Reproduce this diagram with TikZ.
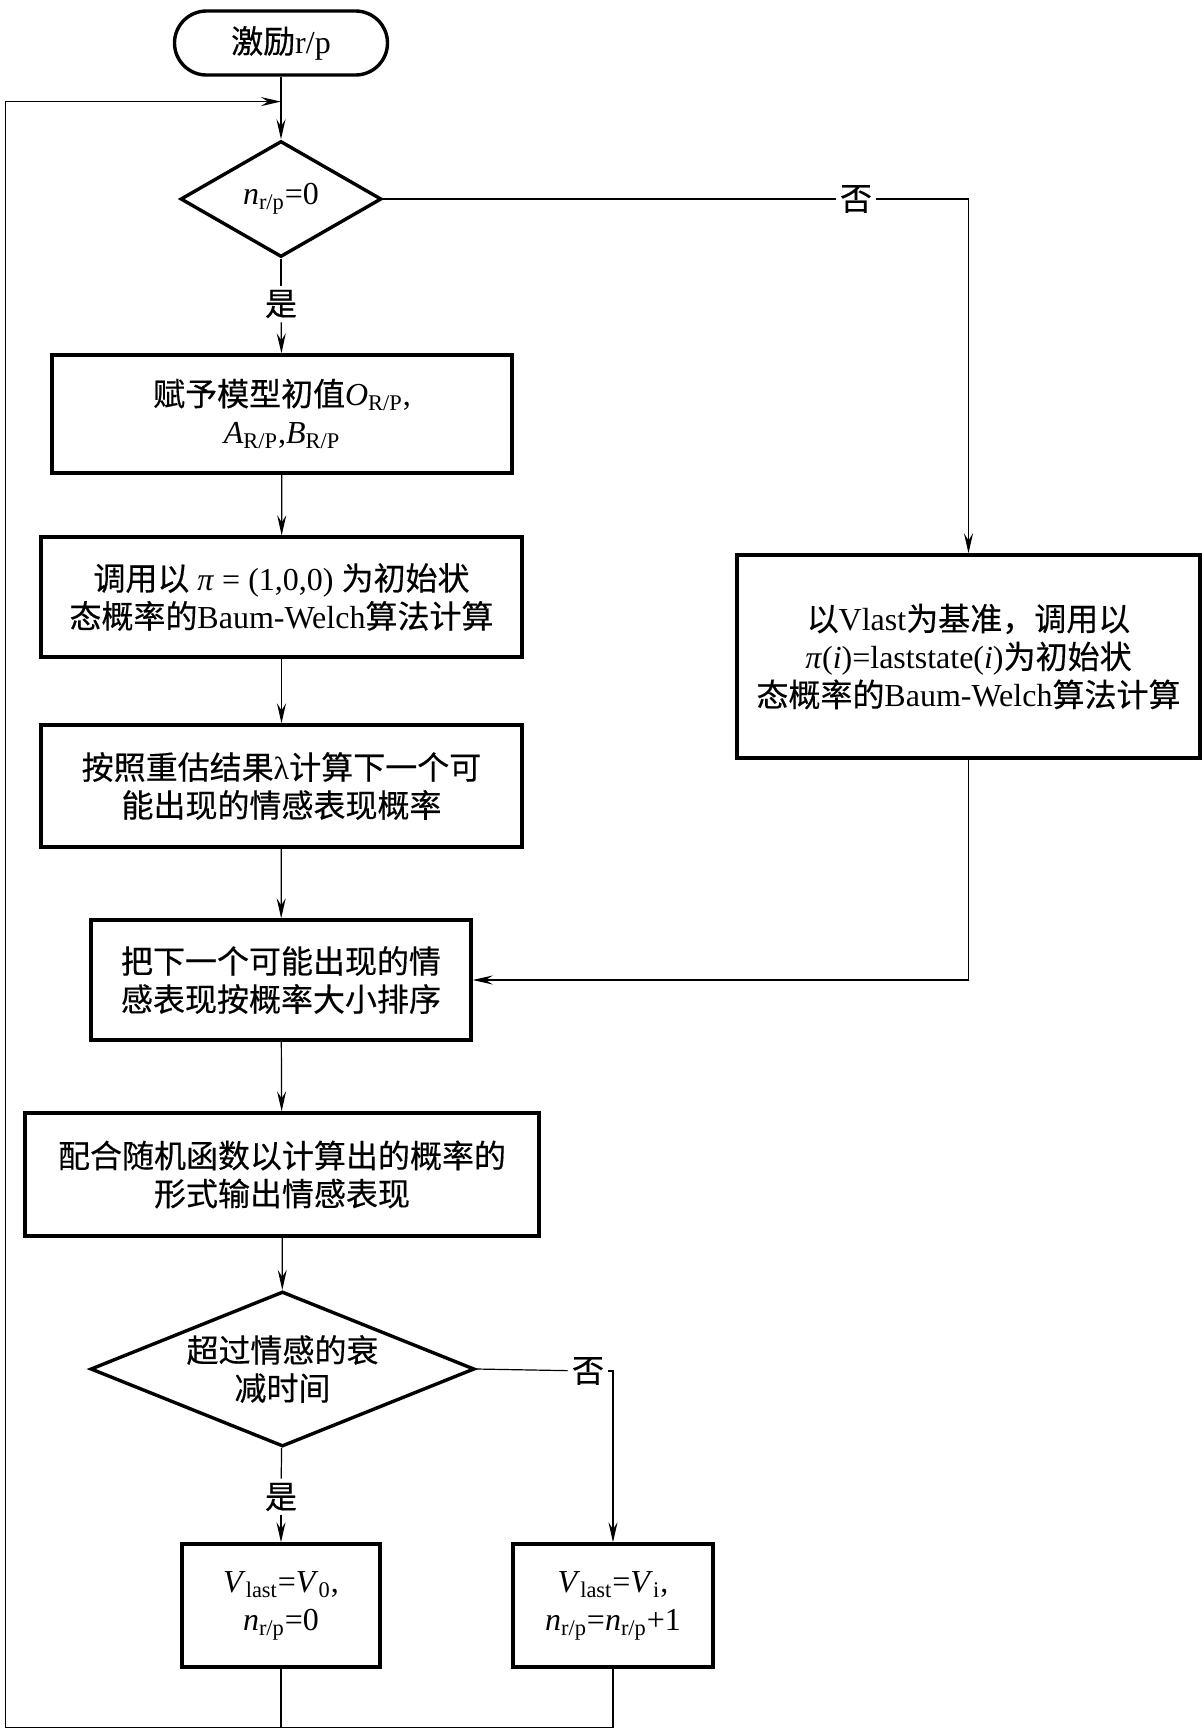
\documentclass[tikz,border=0pt]{standalone}
\usepackage{fontspec}
\setmainfont{Liberation Serif}
\newfontfamily\cjk[FakeBold=0.4]{Noto Sans CJK SC}
\usetikzlibrary{shapes.geometric,arrows.meta}
\newcommand\zh[1]{{\cjk #1}}
\newcommand\sbs[1]{\textsubscript{#1}}
\begin{document}
\begin{tikzpicture}[x=0.5pt,y=-0.5pt,
  every node/.style={font=\fontsize{16pt}{19pt}\selectfont},
  box/.style={draw, line width=1.7pt, align=center, inner sep=0pt},
  term/.style={draw, line width=1.7pt, rounded corners=16pt, inner sep=0pt},
  dia/.style={draw, diamond, line width=1.7pt, align=center, inner sep=0pt},
  lbl/.style={fill=white, inner sep=2pt},
  ln/.style={line width=0.6pt},
  arr/.style={ln, -{Stealth[length=10pt,width=4.5pt,inset=3.5pt]}}]
\useasboundingbox (0,0) rectangle (1201,1731);

\node[term, minimum width=106.5pt, minimum height=32pt] (start) at (281,43) {\zh{激励}r/p};
\node[dia, shape aspect=1.73, minimum width=100.5pt, minimum height=58pt] (d1) at (281,199) {\textit{n}\sbs{r/p}=0};
\node[lbl] (yes1) at (281,304) {\zh{是}};
\node[lbl] (no1) at (856,199) {\zh{否}};

\node[box, minimum width=230pt, minimum height=59pt] (b1) at (282,414)
  {\zh{赋予模型初值}\textit{O}\sbs{R/P},\\\textit{A}\sbs{R/P},\textit{B}\sbs{R/P}};
\node[box, minimum width=240.5pt, minimum height=60pt] (b2) at (281.5,597)
  {\zh{调用以} \textit{π} = (1,0,0) \zh{为初始状}\\\zh{态概率的}Baum-Welch\zh{算法计算}};
\node[box, minimum width=240.5pt, minimum height=61pt] (b3) at (281.5,786)
  {\zh{按照重估结果}λ\zh{计算下一个可}\\\zh{能出现的情感表现概率}};
\node[box, minimum width=231.5pt, minimum height=101.5pt] (r) at (968.5,656.5)
  {\zh{以}Vlast\zh{为基准，调用以}\\\textit{π}(\textit{i})=laststate(\textit{i})\zh{为初始状}\\\zh{态概率的}Baum-Welch\zh{算法计算}};
\node[box, minimum width=190pt, minimum height=60pt] (b4) at (281,980)
  {\zh{把下一个可能出现的情}\\\zh{感表现按概率大小排序}};
\node[box, minimum width=257pt, minimum height=61.5pt] (b5) at (282,1174.5)
  {\zh{配合随机函数以计算出的概率的}\\\zh{形式输出情感表现}};
\node[dia, shape aspect=2.5, minimum width=192pt, minimum height=77.5pt] (d2) at (282.5,1369)
  {\zh{超过情感的衰}\\\zh{减时间}};
\node[lbl] (yes2) at (281,1497) {\zh{是}};
\node[lbl] (no2) at (588,1371) {\zh{否}};
\node[box, minimum width=99pt, minimum height=61.5pt] (b6) at (281,1605.5)
  {\textit{V}\sbs{last}=\textit{V}\sbs{0},\\\textit{n}\sbs{r/p}=0};
\node[box, minimum width=100pt, minimum height=61.5pt] (b7) at (613,1605.5)
  {\textit{V}\sbs{last}=\textit{V}\sbs{i},\\\textit{n}\sbs{r/p}=\textit{n}\sbs{r/p}+1};

\coordinate (j1) at (281,101.6);
\coordinate (tl) at (5.5,101.6);
\coordinate (bl) at (5.5,1727.5);
\coordinate (bm) at (281,1727.5);

\draw[arr] (start) -- (d1);
\draw[ln] (d1) -- (yes1);
\draw[arr] (yes1) -- (b1);
\draw[arr] (b1) -- (b2);
\draw[arr] (b2) -- (b3);
\draw[arr] (b3) -- (b4);
\draw[arr] (b4) -- (b5);
\draw[arr] (b5) -- (d2);
\draw[ln] (d1.east) -- (no1);
\draw[arr] (no1) -| (r);
\draw[arr] (r.south) |- (b4.east);
\draw[ln] (d2) -- (yes2);
\draw[arr] (yes2) -- (b6);
\draw[ln] (d2.east) -- (no2);
\draw[arr] (no2) -| (b7);
\draw[ln] (b6) -- (bm);
\draw[arr] (b7) |- (bl) -- (tl) -- (j1);
\end{tikzpicture}
\end{document}
